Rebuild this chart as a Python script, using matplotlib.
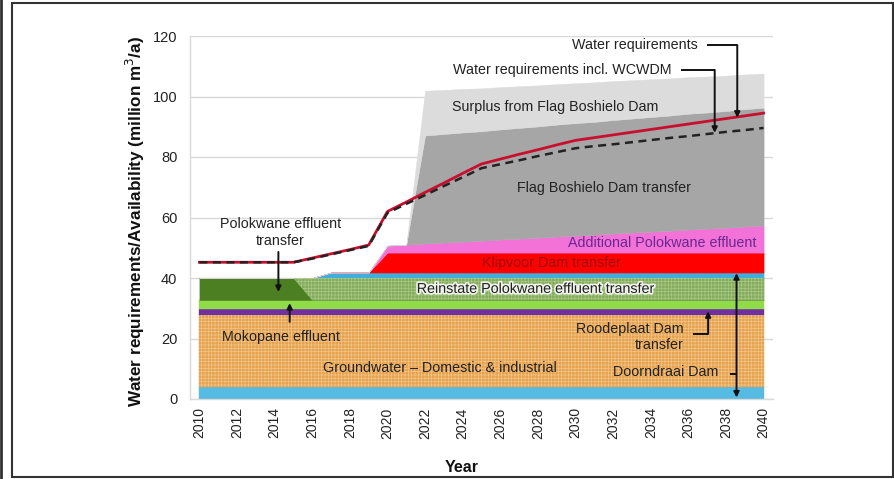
import matplotlib
matplotlib.use("Agg")
import numpy as np
import matplotlib.pyplot as plt
from matplotlib.patches import Rectangle
from matplotlib.lines import Line2D
import matplotlib.patheffects as pe

plt.rcParams['font.family'] = ['Liberation Sans', 'DejaVu Sans']
plt.rcParams['hatch.linewidth'] = 0.5

years = list(range(2010, 2041))

# Supply components (million m3/a), stacked from the bottom up
doorndraai = [4.0, 4.0, 4.0, 4.0, 4.0, 4.0, 4.0, 4.0, 4.0, 4.0,
              4.0, 4.0, 4.0, 4.0, 4.0, 4.0, 4.0, 4.0, 4.0, 4.0,
              4.0, 4.0, 4.0, 4.0, 4.0, 4.0, 4.0, 4.0, 4.0, 4.0, 4.0]
groundwater = [23.8, 23.8, 23.8, 23.8, 23.8, 23.8, 23.8, 23.8, 23.8, 23.8,
               23.8, 23.8, 23.8, 23.8, 23.8, 23.8, 23.8, 23.8, 23.8, 23.8,
               23.8, 23.8, 23.8, 23.8, 23.8, 23.8, 23.8, 23.8, 23.8, 23.8, 23.8]
roodeplaat = [1.8, 1.8, 1.8, 1.8, 1.8, 1.8, 1.8, 1.8, 1.8, 1.8,
              1.8, 1.8, 1.8, 1.8, 1.8, 1.8, 1.8, 1.8, 1.8, 1.8,
              1.8, 1.8, 1.8, 1.8, 1.8, 1.8, 1.8, 1.8, 1.8, 1.8, 1.8]
mokopane = [3.1, 3.1, 3.1, 3.1, 3.1, 3.1, 3.1, 3.1, 3.1, 3.1,
            3.1, 3.1, 3.1, 3.1, 3.1, 3.1, 3.1, 3.1, 3.1, 3.1,
            3.1, 3.1, 3.1, 3.1, 3.1, 3.1, 3.1, 3.1, 3.1, 3.1, 3.1]
polokwane_effluent = [7.3, 7.3, 7.3, 7.3, 7.3, 7.3, 0.0, 0.0, 0.0, 0.0,
                      0.0, 0.0, 0.0, 0.0, 0.0, 0.0, 0.0, 0.0, 0.0, 0.0,
                      0.0, 0.0, 0.0, 0.0, 0.0, 0.0, 0.0, 0.0, 0.0, 0.0, 0.0]
reinstate_polokwane = [0.0, 0.0, 0.0, 0.0, 0.0, 0.0, 7.3, 7.3, 7.3, 7.3,
                       7.3, 7.3, 7.3, 7.3, 7.3, 7.3, 7.3, 7.3, 7.3, 7.3,
                       7.3, 7.3, 7.3, 7.3, 7.3, 7.3, 7.3, 7.3, 7.3, 7.3, 7.3]
doorndraai_top = [0.0, 0.0, 0.0, 0.0, 0.0, 0.0, 0.0, 1.8, 1.8, 1.8,
                  1.8, 1.8, 1.8, 1.8, 1.8, 1.8, 1.8, 1.8, 1.8, 1.8,
                  1.8, 1.8, 1.8, 1.8, 1.8, 1.8, 1.8, 1.8, 1.8, 1.8, 1.8]
klipvoor = [0.0, 0.0, 0.0, 0.0, 0.0, 0.0, 0.0, 0.0, 0.0, 0.0,
            6.6, 6.6, 6.6, 6.6, 6.6, 6.6, 6.6, 6.6, 6.6, 6.6,
            6.6, 6.6, 6.6, 6.6, 6.6, 6.6, 6.6, 6.6, 6.6, 6.6, 6.6]
additional_polokwane = [0.0, 0.0, 0.0, 0.0, 0.0, 0.0, 0.0, 0.0, 0.0, 0.0,
                        2.3, 2.6, 3.0, 3.3, 3.6, 3.9, 4.3, 4.6, 4.9, 5.3,
                        5.6, 5.9, 6.3, 6.6, 6.9, 7.2, 7.6, 7.9, 8.2, 8.6, 8.9]
flag_boshielo = [0.0, 0.0, 0.0, 0.0, 0.0, 0.0, 0.0, 0.0, 0.0, 0.0,
                 0.0, 0.0, 35.7, 35.9, 36.1, 36.2, 36.4, 36.6, 36.8, 37.0,
                 37.2, 37.3, 37.5, 37.7, 37.9, 38.1, 38.3, 38.4, 38.6, 38.8, 39.0]
flag_surplus = [0.0, 0.0, 0.0, 0.0, 0.0, 0.0, 0.0, 0.0, 0.0, 0.0,
                0.0, 0.0, 14.8, 14.6, 14.4, 14.2, 14.0, 13.8, 13.6, 13.4,
                13.2, 13.1, 12.9, 12.7, 12.5, 12.3, 12.1, 11.9, 11.7, 11.5, 11.3]

# Requirement curves
water_requirements = [45.2, 45.2, 45.2, 45.2, 45.2, 45.2, 46.6, 48.0, 49.4, 50.9,
                      62.0, 65.1, 68.3, 71.4, 74.6, 77.7, 79.3, 80.9, 82.4, 84.0,
                      85.5, 86.4, 87.3, 88.2, 89.1, 90.0, 90.9, 91.8, 92.7, 93.6, 94.5]
requirements_wcwdm = [45.2, 45.2, 45.2, 45.2, 45.2, 45.2, 46.4, 47.8, 49.2, 50.6,
                      61.5, 64.5, 67.4, 70.4, 73.3, 76.3, 77.6, 78.9, 80.3, 81.6,
                      82.9, 83.6, 84.2, 84.9, 85.6, 86.3, 86.9, 87.6, 88.3, 88.9, 89.6]

layers = [
    (doorndraai, '#55BBE3', None),
    (groundwater, '#E6A24E', '#F1C58A'),
    (roodeplaat, '#7030A0', None),
    (mokopane, '#8FDB48', None),
    (polokwane_effluent, '#4B7F22', None),
    (reinstate_polokwane, '#84AC5C', '#A8C888'),
    (doorndraai_top, '#3FAEDB', None),
    (klipvoor, '#FF0000', None),
    (additional_polokwane, '#F272D8', None),
    (flag_boshielo, '#A6A6A6', None),
    (flag_surplus, '#DCDCDC', None),
]

fig = plt.figure(figsize=(8.95, 4.79), dpi=100)
ax = fig.add_axes([190 / 895, 1 - 399 / 479, 583 / 895, 363 / 479])

x = np.array(years, dtype=float)
base = np.zeros(len(years))
for values, color, hatch_color in layers:
    top = base + np.array(values)
    ax.fill_between(x, base, top, facecolor=color, edgecolor=color,
                    linewidth=0.3, zorder=2)
    if hatch_color is not None:
        ax.fill_between(x, base, top, facecolor='none', edgecolor=hatch_color,
                        linewidth=0, hatch='+++++', zorder=2.1)
    base = top

ax.plot(x, water_requirements, color='#C8102E', lw=2.0, zorder=4)
ax.plot(x, requirements_wcwdm, color='#222222', lw=1.8, ls=(0, (3.2, 2.2)),
        zorder=5)

ax.set_xlim(2009.5, 2040.5)
ax.set_ylim(0, 120)
ax.set_xticks(list(range(2010, 2041, 2)))
ax.set_xticklabels([str(y) for y in range(2010, 2041, 2)], rotation=90,
                   fontsize=10, color='#222222')
ax.set_yticks([0, 20, 40, 60, 80, 100, 120])
ax.set_yticklabels(['0', '20', '40', '60', '80', '100', '120'], fontsize=10.5,
                   color='#222222')
ax.tick_params(axis='x', length=0, pad=6)
ax.tick_params(axis='y', length=0, pad=9)
ax.grid(axis='y', color='#D9D9D9', lw=1.0, zorder=0)
ax.set_axisbelow(True)
for side in ('top', 'right'):
    ax.spines[side].set_visible(False)
for side in ('left', 'bottom'):
    ax.spines[side].set_color('#D9D9D9')
    ax.spines[side].set_linewidth(1.0)

fig.text(135 / 895, 1 - 221 / 479,
         'Water requirements/Availability (million m$^3$/a)',
         rotation=90, ha='center', va='center', fontsize=12.3,
         fontweight='bold', color='#111111')
fig.text(462 / 895, 1 - 468 / 479, 'Year', ha='center', va='center',
         fontsize=11.5, fontweight='bold', color='#111111')

txt = dict(fontsize=10.3, color='#222222', zorder=6)
ax.text(2036.5, 117.0, 'Water requirements', ha='right', va='center', **txt)
ax.text(2035.1, 108.8, 'Water requirements incl. WCWDM', ha='right',
        va='center', **txt)
ax.text(2028.9, 96.5, 'Surplus from Flag Boshielo Dam', ha='center',
        va='center', **txt)
ax.text(2031.5, 69.8, 'Flag Boshielo Dam transfer', ha='center',
        va='center', **txt)
ax.text(2034.6, 51.6, 'Additional Polokwane effluent', ha='center',
        va='center', fontsize=10.3, color='#6A2790', zorder=6)
ax.text(2028.7, 45.0, 'Klipvoor Dam transfer', ha='center', va='center',
        fontsize=10.3, color='#9E0A0A', zorder=6)
ax.text(2027.9, 36.4, 'Reinstate Polokwane effluent transfer', ha='center',
        va='center', path_effects=[pe.withStroke(linewidth=2.5,
                                                 foreground='white',
                                                 alpha=0.85)], **txt)
ax.text(2014.3, 55.0, 'Polokwane effluent\ntransfer', ha='center',
        va='center', linespacing=1.25, **txt)
ax.text(2014.35, 20.5, 'Mokopane effluent', ha='center', va='center', **txt)
ax.text(2022.8, 10.2, 'Groundwater \u2013 Domestic & industrial',
        ha='center', va='center', **txt)
ax.text(2035.75, 20.5, 'Roodeplaat Dam\ntransfer', ha='right', va='center',
        multialignment='right', linespacing=1.25, **txt)
ax.text(2037.6, 8.9, 'Doorndraai Dam', ha='right', va='center', **txt)

arrow = dict(arrowstyle='-|>', color='#111111', lw=1.4, mutation_scale=8,
             shrinkA=0, shrinkB=0)
double_arrow = dict(arrowstyle='<|-|>', color='#111111', lw=1.4,
                    mutation_scale=8, shrinkA=0, shrinkB=0)
line_kw = dict(color='#111111', lw=1.4, zorder=7, solid_capstyle='butt')

# Water requirements pointer
ax.plot([2037.0, 2038.6], [117.0, 117.0], **line_kw)
ax.annotate('', xy=(2038.6, 93.0), xytext=(2038.6, 117.0),
            arrowprops=arrow, zorder=7)
# WCWDM pointer
ax.plot([2035.6, 2037.4], [108.8, 108.8], **line_kw)
ax.annotate('', xy=(2037.4, 88.0), xytext=(2037.4, 108.8),
            arrowprops=arrow, zorder=7)
# Polokwane effluent transfer pointer
ax.annotate('', xy=(2014.2, 35.4), xytext=(2014.2, 48.6),
            arrowprops=arrow, zorder=7)
# Mokopane effluent pointer
ax.annotate('', xy=(2014.8, 31.7), xytext=(2014.8, 25.5),
            arrowprops=arrow, zorder=7)
# Roodeplaat pointer
ax.plot([2036.25, 2037.05], [21.5, 21.5], **line_kw)
ax.annotate('', xy=(2037.05, 29.0), xytext=(2037.05, 21.5),
            arrowprops=arrow, zorder=7)
# Doorndraai pointer and span arrow
ax.plot([2038.2, 2038.56], [8.3, 8.3], **line_kw)
ax.annotate('', xy=(2038.56, 0.5), xytext=(2038.56, 41.6),
            arrowprops=double_arrow, zorder=7)

# Outer frame
fig.add_artist(Rectangle((12 / 895, 2 / 479), 881 / 895, 474 / 479,
                         transform=fig.transFigure, fill=False,
                         edgecolor='#333333', lw=1.5))
fig.add_artist(Line2D([1 / 895, 1 / 895], [0, 1], transform=fig.transFigure,
                      color='#333333', lw=2.0))

fig.savefig('out.png', dpi=100)
